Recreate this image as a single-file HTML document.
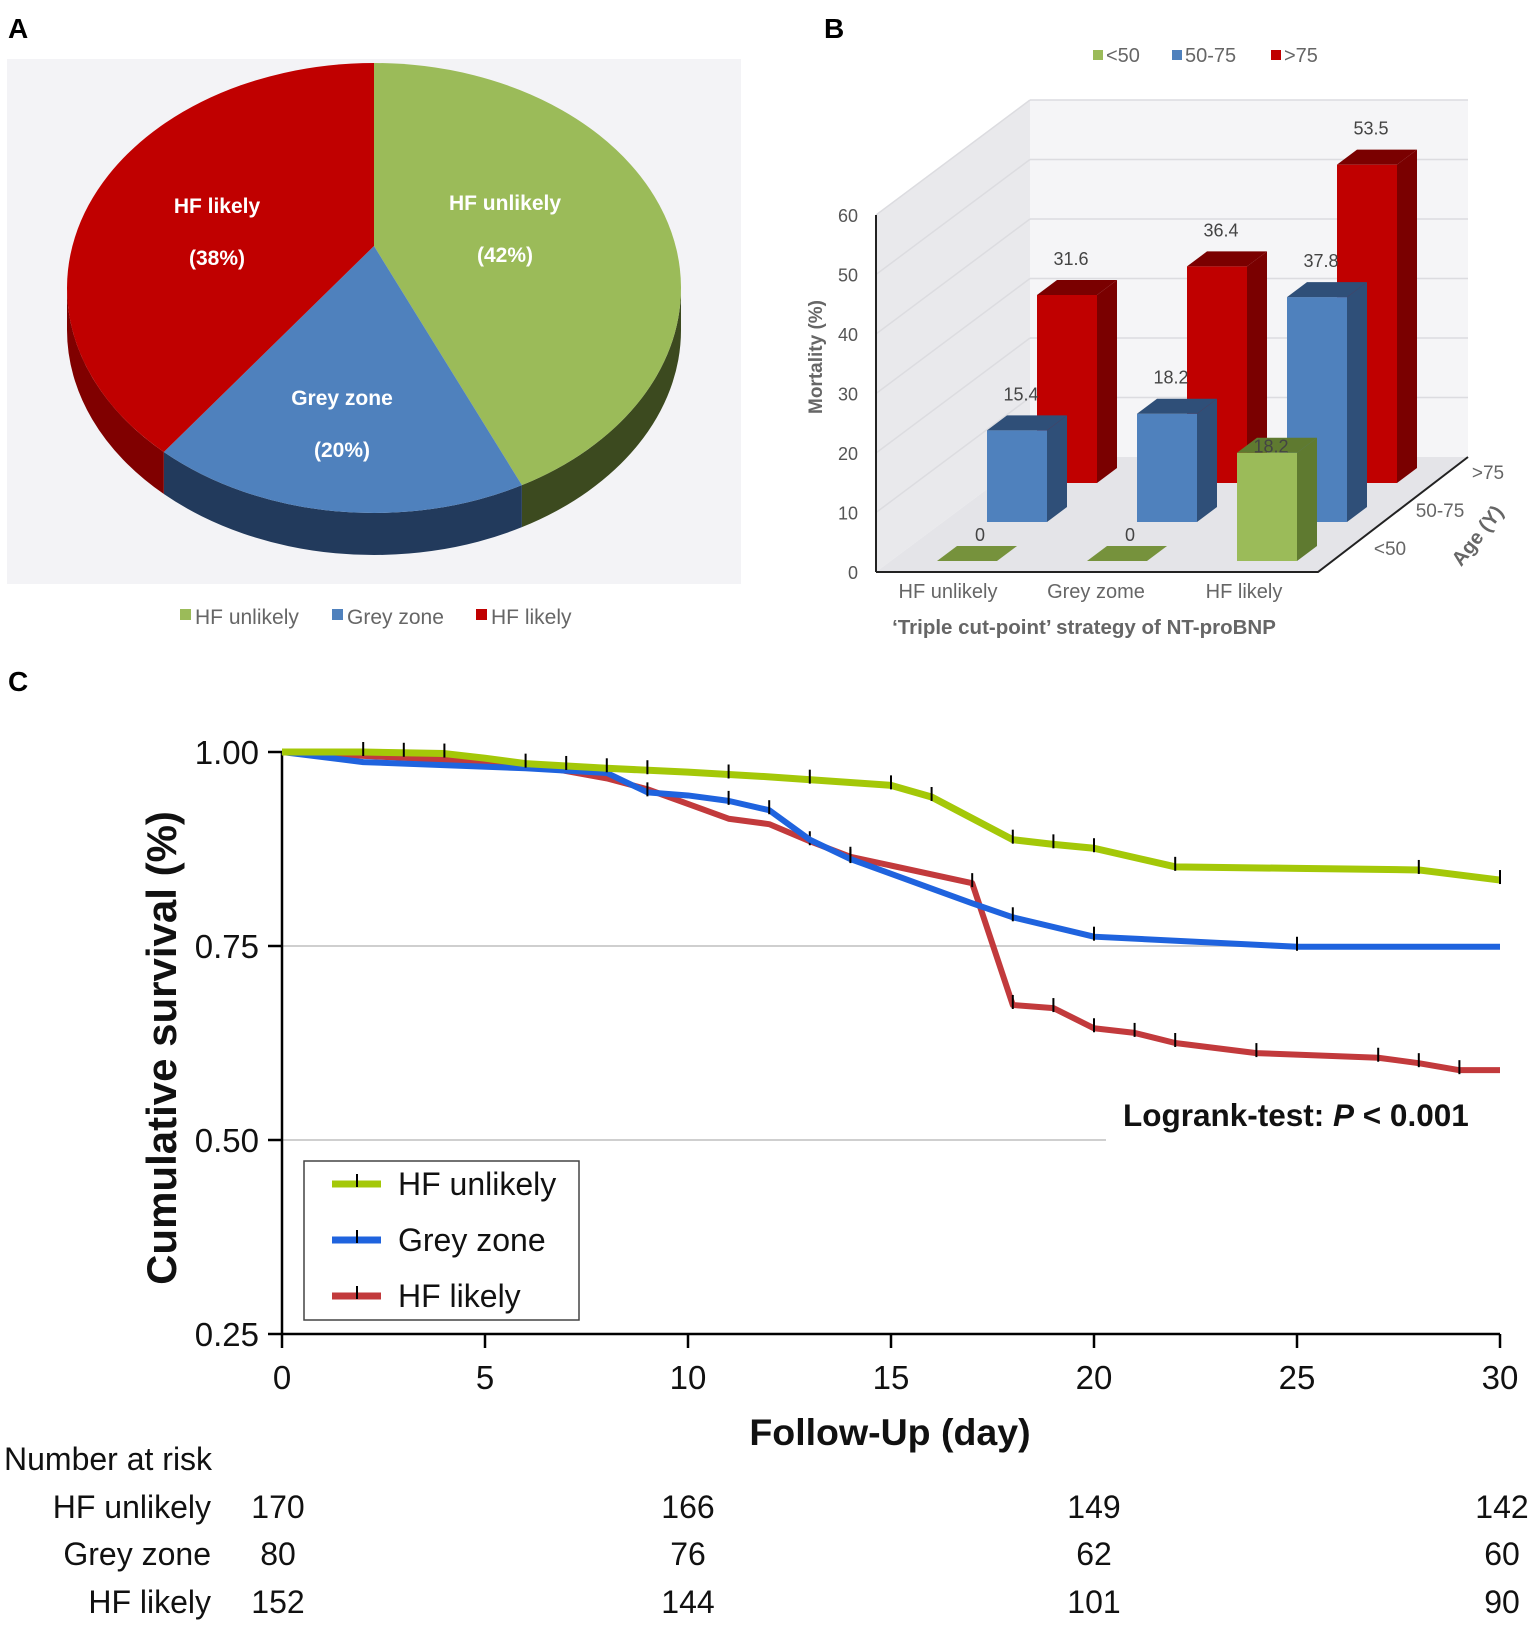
<!DOCTYPE html>
<html><head><meta charset="utf-8"><style>
body{margin:0;background:#fff;}
svg{display:block;font-family:"Liberation Sans",Arial,sans-serif;}
</style></head><body>
<svg id="fig" width="1535" height="1629" viewBox="0 0 1535 1629" xmlns="http://www.w3.org/2000/svg">
<text x="8" y="38" font-size="28" font-weight="bold">A</text>
<text x="824" y="38" font-size="28" font-weight="bold">B</text>
<text x="8" y="691" font-size="28" font-weight="bold">C</text>
<rect x="7" y="59" width="734" height="525" fill="#f3f3f6"/>
<g id="pie"></g>
<g id="bars"></g>
<g id="km"></g>
</svg>
<script>
const NS="http://www.w3.org/2000/svg";
function mk(parent,tag,attrs,text){const e=document.createElementNS(NS,tag);for(const k in attrs)e.setAttribute(k,attrs[k]);if(text!==undefined)e.textContent=text;parent.appendChild(e);return e;}

/* ---------- Panel A: pie ---------- */
const pieLabels=["HF unlikely","Grey zone","HF likely"];
const pieValues=[42,20,38];
const pieColors=["#9bbb59","#4f81bd","#c00000"];
const pieSide=["#3c4a1f","#223a5c","#800000"];
(function(){
 const g=document.getElementById('pie');
 const cx=374,cy=288,rx=307,ry=225,ax=374,ay=246,depth=42;
 const tot=pieValues.reduce((a,b)=>a+b,0);
 const P=(t,dy)=>[cx+rx*Math.sin(t),cy-ry*Math.cos(t)+(dy||0)];
 let t0=0;const angs=[];
 pieValues.forEach(v=>{const t1=t0+v/tot*2*Math.PI;angs.push([t0,t1]);t0=t1;});
 angs.forEach((a,i)=>{
  const s=Math.max(a[0],Math.PI/2),e=Math.min(a[1],3*Math.PI/2);
  if(e<=s)return;
  const p0=P(s),p1=P(e),q1=P(e,depth),q0=P(s,depth);
  const el=mk(g,'path',{d:`M${p0} A${rx} ${ry} 0 0 1 ${p1} L${q1} A${rx} ${ry} 0 0 0 ${q0} Z`,fill:pieSide[i]});
  
  
 });
 angs.forEach((a,i)=>{
  const p0=P(a[0]),p1=P(a[1]);const large=(a[1]-a[0])>Math.PI?1:0;
  const el=mk(g,'path',{d:`M${ax},${ay} L${p0} A${rx} ${ry} 0 ${large} 1 ${p1} Z`,fill:pieColors[i]});
  
  
 });
 const lp=[[505,210],[342,405],[217,213]];
 pieLabels.forEach((l,i)=>{
  const t=mk(g,'text',{x:lp[i][0],y:lp[i][1],'font-size':21,'font-weight':'bold',fill:'#fff','text-anchor':'middle'},l);
  
  
  const t2=mk(g,'text',{x:lp[i][0],y:lp[i][1]+52,'font-size':21,'font-weight':'bold',fill:'#fff','text-anchor':'middle'},'('+pieValues[i]+'%)');
  
  
 });
 const lx=[180,332,476];
 pieLabels.forEach((l,i)=>{
  const r=mk(g,'rect',{x:lx[i],y:609,width:11,height:11,fill:pieColors[i]});
  
  
  const t=mk(g,'text',{x:lx[i]+15,y:624,'font-size':21,fill:'#666'},l);
  
  
 });
})();

/* ---------- Panel B: 3D bars ---------- */
const barCats=["HF unlikely","Grey zome","HF likely"];
const ageGroups=["<50","50-75",">75"];
const mortLt50=[0,0,18.2];
const mort50to75=[15.4,18.2,37.8];
const mortGt75=[31.6,36.4,53.5];
const barTicks=[0,10,20,30,40,50,60];
(function(){
 const g=document.getElementById('bars');
 const fx=876,fy=572,bx=1030,by=457,rx2=1468,k=5.95;
 mk(g,'polygon',{points:`${bx},${by-60*k} ${rx2},${by-60*k} ${rx2},${by} ${bx},${by}`,fill:'#f5f5f7'});
 mk(g,'polygon',{points:`${fx},${fy-60*k} ${bx},${by-60*k} ${bx},${by} ${fx},${fy}`,fill:'#e9e9ec'});
 mk(g,'polygon',{points:`${fx},${fy} ${bx},${by} ${rx2},${by} ${1318},${fy}`,fill:'#e4e4e8'});
 barTicks.forEach(v=>{
  if(v>0){mk(g,'line',{x1:bx,y1:by-v*k,x2:rx2,y2:by-v*k,stroke:'#dcdce0','stroke-width':1.5});
  mk(g,'line',{x1:fx,y1:fy-v*k,x2:bx,y2:by-v*k,stroke:'#dcdce0','stroke-width':1.5});}
  const t=mk(g,'text',{x:858,y:fy-v*k+7,'font-size':18,fill:'#555','text-anchor':'end'},String(v));
  
  
 });
 mk(g,'line',{x1:fx,y1:fy-60*k,x2:fx,y2:fy,stroke:'#222','stroke-width':2});
 mk(g,'polyline',{points:`${fx},${fy} 1318,${fy} ${rx2},${by}`,fill:'none',stroke:'#222','stroke-width':2});
 const rows=[[mortLt50,'#9bbb59','#76923c','#5f7a30'],[mort50to75,'#4f81bd','#3a6291','#2f4f78'],[mortGt75,'#c00000','#9a0000','#7a0000']];
 const W=60,DX=20,DY=15;
 for(let r=2;r>=0;r--){
  const [vals,cF,cT,cS]=rows[r];
  vals.forEach((v,c)=>{
   const x=937+150*c+50*r,y0=561-39*r,h=v*k,yt=y0-h;
   const grp=mk(g,'g',{});
   
   
   if(h>0){
    mk(grp,'polygon',{points:`${x+W},${y0} ${x+W+DX},${y0-DY} ${x+W+DX},${yt-DY} ${x+W},${yt}`,fill:cS});
    mk(grp,'rect',{x:x,y:yt,width:W,height:h,fill:cF});
   }
   mk(grp,'polygon',{points:`${x},${yt} ${x+DX},${yt-DY} ${x+W+DX},${yt-DY} ${x+W},${yt}`,fill:h>0?cS:cT});
   const t=mk(g,'text',{x:x+W/2+(v===0?13:4),y:yt-(v===0?20:30)+(r===0&&v>0?30:0),'font-size':18,fill:'#444','text-anchor':'middle'},String(v));
   
   
  });
 }
 barCats.forEach((c,i)=>{
  const t=mk(g,'text',{x:948+148*i,y:598,'font-size':20,fill:'#666','text-anchor':'middle'},c);
  
  
 });
 const ap=[[1390,555],[1440,517],[1488,479]];
 ageGroups.forEach((a,i)=>{
  const t=mk(g,'text',{x:ap[i][0],y:ap[i][1],'font-size':19,fill:'#666','text-anchor':'middle'},a);
  
  
 });
 const at=mk(g,'text',{x:1478,y:542,'font-size':20,'font-weight':'bold',fill:'#666','text-anchor':'middle',transform:'rotate(-52 1478 536)'},'Age (Y)');
 
 
 const yt=mk(g,'text',{x:816,y:363,'font-size':19,'font-weight':'bold',fill:'#666','text-anchor':'middle',transform:'rotate(-90 816 357)'},'Mortality (%)');
 
 
 const xt=mk(g,'text',{x:1084,y:634,'font-size':20.5,'font-weight':'bold',fill:'#666','text-anchor':'middle'},'\u2018Triple cut-point\u2019 strategy of NT-proBNP');
 
 
 const lg=[[1093,'#9bbb59','<50'],[1172,'#4f81bd','50-75'],[1271,'#c00000','>75']];
 lg.forEach(l=>{
  const r=mk(g,'rect',{x:l[0],y:50,width:10,height:10,fill:l[1]});
  
  
  const t=mk(g,'text',{x:l[0]+13,y:62,'font-size':20,fill:'#666'},l[2]);
  
  
 });
})();

/* ---------- Panel C: Kaplan-Meier ---------- */
const unlikelyDays=[0,2,4,5,6,8,10,12,15,16,18,19,20,22,25,28,30];
const unlikelySurv=[1,1,.998,.992,.985,.979,.974,.968,.957,.942,.887,.881,.876,.852,.85,.848,.835];
const unlikelyCensor=[2,3,4,6,7,8,9,11,13,15,16,18,19,20,22,28,30];
const greyDays=[0,2,6,8,9,10,11,12,13,14,17,18,20,25,30];
const greySurv=[1,.987,.979,.973,.948,.944,.937,.925,.887,.862,.805,.787,.762,.749,.749];
const greyCensor=[9,11,12,14,18,20,25];
const likelyDays=[0,4,6,8,9,10,11,12,13,14,17,18,19,20,21,22,24,27,28,29,30];
const likelySurv=[1,.99,.985,.966,.952,.933,.914,.907,.885,.865,.831,.674,.670,.644,.638,.625,.612,.606,.599,.590,.590];
const likelyCensor=[13,14,17,18,19,20,21,22,24,27,28,29];
const xTicks=[0,5,10,15,20,25,30];
const yTicks=[1.00,0.75,0.50,0.25];
const riskDays=[0,10,20,30];
const riskUnlikely=[170,166,149,142];
const riskGrey=[80,76,62,60];
const riskLikely=[152,144,101,90];
(function(){
 const g=document.getElementById('km');
 const X=d=>282+d*(1218/30);
 const Y=s=>752+(1-s)*776;
 const interp=(ds,ss,d)=>{for(let i=1;i<ds.length;i++){if(d<=ds[i]){const f=(d-ds[i-1])/(ds[i]-ds[i-1]);return ss[i-1]+f*(ss[i]-ss[i-1]);}}return ss[ss.length-1];};
 mk(g,'line',{x1:X(0),y1:Y(.75),x2:X(30),y2:Y(.75),stroke:'#cfcfcf','stroke-width':2});
 mk(g,'line',{x1:X(0),y1:Y(.5),x2:1106,y2:Y(.5),stroke:'#cfcfcf','stroke-width':2});
 mk(g,'line',{x1:X(0),y1:Y(1),x2:X(0),y2:Y(.25),stroke:'#000','stroke-width':2.5});
 mk(g,'line',{x1:X(0),y1:Y(.25),x2:X(30),y2:Y(.25),stroke:'#000','stroke-width':2.5});
 yTicks.forEach(v=>{
  mk(g,'line',{x1:X(0)-14,y1:Y(v),x2:X(0),y2:Y(v),stroke:'#000','stroke-width':2.5});
  const t=mk(g,'text',{x:259,y:Y(v)+12,'font-size':33,'text-anchor':'end',fill:'#111'},v.toFixed(2));
  
  
 });
 xTicks.forEach(v=>{
  mk(g,'line',{x1:X(v),y1:Y(.25),x2:X(v),y2:Y(.25)+14,stroke:'#000','stroke-width':2.5});
  const t=mk(g,'text',{x:X(v),y:1389,'font-size':33,'text-anchor':'middle',fill:'#111'},String(v));
  
  
 });
 const series=[[unlikelyDays,unlikelySurv,unlikelyCensor,'#a4c808','hf-unlikely'],[greyDays,greySurv,greyCensor,'#1f63de','grey-zone'],[likelyDays,likelySurv,likelyCensor,'#c23a3c','hf-likely']];
 [2,1,0].forEach(i=>{
  const [ds,ss,cs,col,nm]=series[i];
  const pl=mk(g,'polyline',{points:ds.map((d,j)=>X(d)+','+Y(ss[j])).join(' '),fill:'none',stroke:col,'stroke-width':i===0?7:6,'stroke-linejoin':'round'});
  
  
  cs.forEach(d=>{
   const y=Y(interp(ds,ss,d));
   const tk=mk(g,'line',{x1:X(d),y1:y-10,x2:X(d),y2:y+4,stroke:'#000','stroke-width':2});
   
   
  });
 });
 const yt=mk(g,'text',{x:176,y:1048,'font-size':42,'font-weight':'bold','text-anchor':'middle',fill:'#111',transform:'rotate(-90 176 1048)'},'Cumulative survival (%)');
 
 
 const xt=mk(g,'text',{x:890,y:1445,'font-size':37.5,'font-weight':'bold','text-anchor':'middle',fill:'#111'},'Follow-Up (day)');
 
 
 const lr=mk(g,'text',{x:1123,y:1126,'font-size':31.5,'font-weight':'bold',fill:'#111'});
 
 
 mk(lr,'tspan',{},'Logrank-test: ');mk(lr,'tspan',{'font-style':'italic'},'P');mk(lr,'tspan',{},' < 0.001');
 const lb=mk(g,'g',{});
 
 
 mk(lb,'rect',{x:304,y:1161,width:275,height:159,fill:'#fff',stroke:'#444','stroke-width':1.5});
 const ly=[1184,1240,1296];const ln=['HF unlikely','Grey zone','HF likely'];
 series.forEach((s,i)=>{
  mk(lb,'line',{x1:332,y1:ly[i],x2:381,y2:ly[i],stroke:s[3],'stroke-width':7});
  mk(lb,'line',{x1:357,y1:ly[i]-10,x2:357,y2:ly[i]+3,stroke:'#000','stroke-width':2});
  const t=mk(lb,'text',{x:398,y:ly[i]+11,'font-size':32,fill:'#111'},ln[i]);
  
  
 });
 const nr=mk(g,'text',{x:4,y:1470,'font-size':32,fill:'#111'},'Number at risk');
 
 
 const rows=[[riskUnlikely,'HF unlikely',1518],[riskGrey,'Grey zone',1565],[riskLikely,'HF likely',1613]];
 rows.forEach(r=>{
  const t=mk(g,'text',{x:211,y:r[2],'font-size':32,'text-anchor':'end',fill:'#111'},r[1]);
  
  
  r[0].forEach((n,j)=>{
   const cx=j===0?278:(j===3?1502:X(riskDays[j]));
   const tt=mk(g,'text',{x:cx,y:r[2],'font-size':32,'text-anchor':'middle',fill:'#111'},String(n));
   
   
  });
 });
})();
</script>
</body></html>
